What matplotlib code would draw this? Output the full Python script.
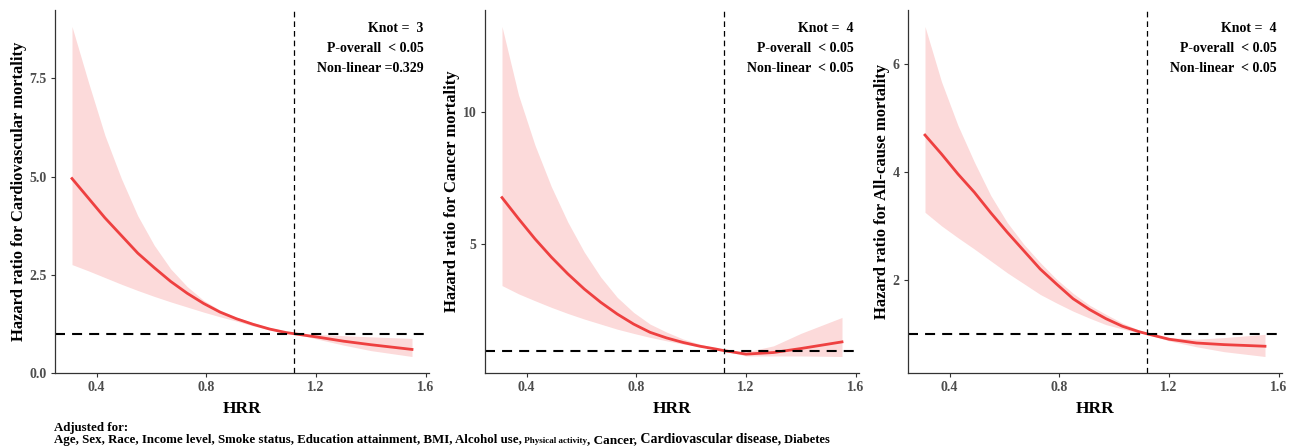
import numpy as np
import matplotlib
matplotlib.use("Agg")
import matplotlib.pyplot as plt

plt.rcParams.update({"font.family": ["Liberation Serif", "DejaVu Serif"]})
plt.rcParams.update({"font.weight": "bold"})

# HRR grid
hrr = [0.31, 0.37, 0.43, 0.49, 0.55, 0.61, 0.67, 0.73, 0.79, 0.85, 0.91,
       0.97, 1.03, 1.09, 1.12, 1.2, 1.3, 1.4, 1.55]

cvd_hr = [4.95, 4.45, 3.95, 3.5, 3.05, 2.68, 2.33, 2.03, 1.77, 1.55, 1.38,
          1.24, 1.12, 1.03, 1.0, 0.92, 0.81, 0.72, 0.6]
cvd_hi = [8.82, 7.4, 6.05, 4.95, 4.0, 3.25, 2.65, 2.2, 1.85, 1.6, 1.42,
          1.28, 1.16, 1.06, 1.0, 0.98, 0.95, 0.92, 0.88]
cvd_lo = [2.76, 2.6, 2.43, 2.26, 2.1, 1.95, 1.81, 1.68, 1.55, 1.43, 1.32,
          1.2, 1.1, 1.01, 1.0, 0.87, 0.71, 0.57, 0.42]

can_hr = [6.76, 5.97, 5.21, 4.52, 3.89, 3.32, 2.82, 2.38, 2.0, 1.69, 1.48,
          1.31, 1.17, 1.06, 1.0, 0.87, 0.93, 1.08, 1.33]
can_hi = [13.2, 10.63, 8.74, 7.17, 5.84, 4.71, 3.77, 3.01, 2.44, 2.0, 1.7,
          1.44, 1.25, 1.1, 1.0, 0.95, 1.18, 1.65, 2.25]
can_lo = [3.45, 3.14, 2.88, 2.63, 2.4, 2.19, 2.0, 1.81, 1.65, 1.5, 1.37,
          1.25, 1.15, 1.05, 1.0, 0.8, 0.8, 0.8, 0.78]

all_hr = [4.68, 4.33, 3.96, 3.62, 3.24, 2.88, 2.54, 2.2, 1.92, 1.65, 1.45,
          1.28, 1.14, 1.04, 1.0, 0.9, 0.83, 0.8, 0.77]
all_hi = [6.69, 5.67, 4.86, 4.18, 3.56, 3.06, 2.66, 2.32, 2.01, 1.75, 1.53,
          1.36, 1.2, 1.07, 1.0, 0.93, 0.9, 0.93, 0.99]
all_lo = [3.25, 3.0, 2.78, 2.57, 2.35, 2.13, 1.93, 1.73, 1.57, 1.42, 1.29,
          1.17, 1.09, 1.02, 1.0, 0.87, 0.76, 0.67, 0.58]

outcomes = ["Cardiovascular mortality", "Cancer mortality", "All-cause mortality"]
knots = ["Knot =  3", "Knot =  4", "Knot =  4"]
p_overall = ["P-overall  < 0.05", "P-overall  < 0.05", "P-overall  < 0.05"]
p_nonlin = ["Non-linear =0.329", "Non-linear  < 0.05", "Non-linear  < 0.05"]
y_ticks = [[0.0, 2.5, 5.0, 7.5], [5, 10], [2, 4, 6]]
y_ticklabels = [["0.0", "2.5", "5.0", "7.5"], ["5", "10"], ["2", "4", "6"]]
x_ticks = [0.4, 0.8, 1.2, 1.6]
ref_hrr = 1.12

series = [(cvd_hr, cvd_lo, cvd_hi), (can_hr, can_lo, can_hi), (all_hr, all_lo, all_hi)]

W, H = 1301, 447
fig = plt.figure(figsize=(W / 100, H / 100), dpi=100)
lefts = [55, 485, 908]
for i, (hr, lo, hi) in enumerate(series):
    ax = fig.add_axes([lefts[i] / W, (H - 373) / H, 374 / W, 363 / H])
    ax.fill_between(hrr, lo, hi, color="#FCDADA", linewidth=0)
    ax.plot(hrr, hr, color="#EE4040", linewidth=2)
    ax.axhline(1, color="black", linewidth=1.5, dashes=(4.8, 3.4))
    ax.axvline(ref_hrr, color="black", linewidth=0.9, dashes=(4.5, 3.2))
    ax.margins(x=0.05, y=0.05)
    ax.set_xticks(x_ticks)
    ax.set_xticklabels(["0.4", "0.8", "1.2", "1.6"])
    ax.set_yticks(y_ticks[i])
    ax.set_yticklabels(y_ticklabels[i])
    for s in ["top", "right"]:
        ax.spines[s].set_visible(False)
    for s in ["left", "bottom"]:
        ax.spines[s].set_color("#333333")
        ax.spines[s].set_linewidth(0.9)
    ax.tick_params(length=3, width=0.8, color="#333333", labelcolor="#4D4D4D",
                   labelsize=10, pad=3)
    ax.set_xlabel("HRR", fontsize=12.5, fontweight="bold", labelpad=5)
    ax.set_ylabel("Hazard ratio for " + outcomes[i], fontsize=12,
                  fontweight="bold", labelpad=2)
    for j, txt in enumerate([knots[i], p_overall[i], p_nonlin[i]]):
        ax.text(0.985, 0.95 - j * 0.055, txt, transform=ax.transAxes,
                ha="right", va="center", fontsize=10, fontweight="bold")

fig.text(54 / W, 1 - 431.5 / H, "Adjusted for:", fontsize=9.3, fontweight="bold",
         va="baseline")

pieces = [
    ("Age, Sex, Race, Income level, Smoke status, Education attainment, BMI, Alcohol use,", 9.3),
    (" Physical activity", 6.5),
    (", Cancer,", 9.5),
    (" Cardiovascular disease,", 10),
    (" Diabetes", 9),
]
fig.canvas.draw()
renderer = fig.canvas.get_renderer()
x = 54
for txt, size in pieces:
    t = fig.text(x / W, 1 - 443 / H, txt, fontsize=size, fontweight="bold",
                 va="baseline")
    x = t.get_window_extent(renderer).x1

fig.savefig("out.png", dpi=100, facecolor="white")
